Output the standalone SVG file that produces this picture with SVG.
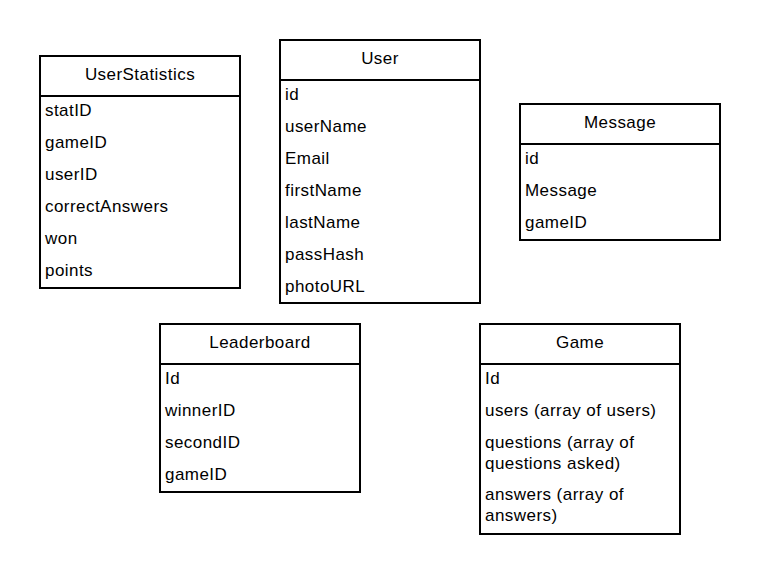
<svg xmlns="http://www.w3.org/2000/svg" width="760" height="574" viewBox="0 0 760 574">
<style>
.box{fill:#ffffff;stroke:#000000;stroke-width:2}
.sep{stroke:#000000;stroke-width:2}
.t{font-family:"Liberation Sans",Arial,sans-serif;font-size:17px;letter-spacing:0.45px;fill:#000000}
.h{text-anchor:middle}
</style>
<rect width="760" height="574" fill="#ffffff"/>
<g id="connectors"></g>
<g id="UserStatistics">
<rect class="box" x="40" y="56" width="200" height="232"/>
<line class="sep" x1="40" y1="96" x2="240" y2="96"/>
<text class="t h" x="140" y="80">UserStatistics</text>
<text class="t" x="45" y="116">statID</text>
<text class="t" x="45" y="148">gameID</text>
<text class="t" x="45" y="180">userID</text>
<text class="t" x="45" y="212">correctAnswers</text>
<text class="t" x="45" y="244">won</text>
<text class="t" x="45" y="276">points</text>
</g>
<g id="User">
<rect class="box" x="280" y="40" width="200" height="263"/>
<line class="sep" x1="280" y1="80" x2="480" y2="80"/>
<text class="t h" x="380" y="64">User</text>
<text class="t" x="285" y="100">id</text>
<text class="t" x="285" y="132">userName</text>
<text class="t" x="285" y="164">Email</text>
<text class="t" x="285" y="196">firstName</text>
<text class="t" x="285" y="228">lastName</text>
<text class="t" x="285" y="260">passHash</text>
<text class="t" x="285" y="292">photoURL</text>
</g>
<g id="Message">
<rect class="box" x="520" y="104" width="200" height="136"/>
<line class="sep" x1="520" y1="144" x2="720" y2="144"/>
<text class="t h" x="620" y="128">Message</text>
<text class="t" x="525" y="164">id</text>
<text class="t" x="525" y="196">Message</text>
<text class="t" x="525" y="228">gameID</text>
</g>
<g id="Leaderboard">
<rect class="box" x="160" y="324" width="200" height="168"/>
<line class="sep" x1="160" y1="364" x2="360" y2="364"/>
<text class="t h" x="260" y="348">Leaderboard</text>
<text class="t" x="165" y="384">Id</text>
<text class="t" x="165" y="416">winnerID</text>
<text class="t" x="165" y="448">secondID</text>
<text class="t" x="165" y="480">gameID</text>
</g>
<g id="Game">
<rect class="box" x="480" y="324" width="200" height="210"/>
<line class="sep" x1="480" y1="364" x2="680" y2="364"/>
<text class="t h" x="580" y="348">Game</text>
<text class="t" x="485" y="384">Id</text>
<text class="t" x="485" y="416">users (array of users)</text>
<text class="t" x="485" y="448">questions (array of</text>
<text class="t" x="485" y="469">questions asked)</text>
<text class="t" x="485" y="500">answers (array of</text>
<text class="t" x="485" y="521">answers)</text>
</g>
</svg>
